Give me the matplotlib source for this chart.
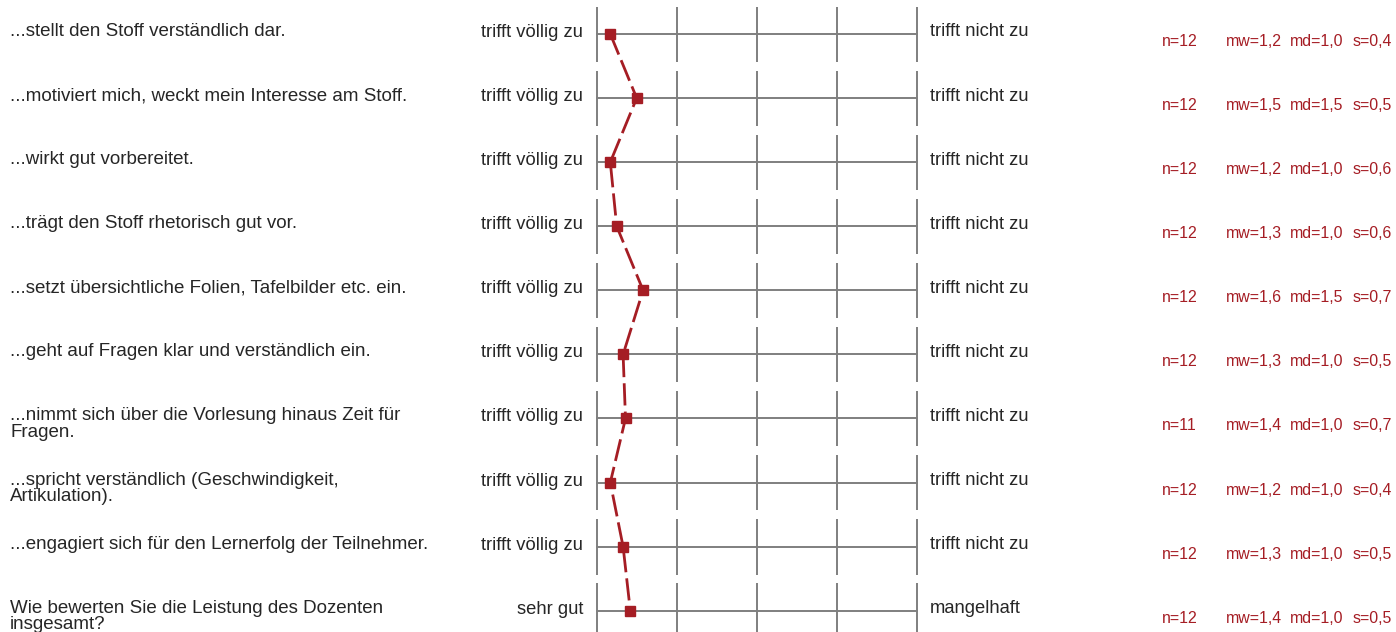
import matplotlib
matplotlib.use("Agg")
import matplotlib.pyplot as plt

plt.rcParams["font.family"] = ["Liberation Sans", "DejaVu Sans"]

W, H = 1396, 632
RED = "#a51d24"
GREY = "#7f7f7f"

questions = [
    "...stellt den Stoff verständlich dar.",
    "...motiviert mich, weckt mein Interesse am Stoff.",
    "...wirkt gut vorbereitet.",
    "...trägt den Stoff rhetorisch gut vor.",
    "...setzt übersichtliche Folien, Tafelbilder etc. ein.",
    "...geht auf Fragen klar und verständlich ein.",
    "...nimmt sich über die Vorlesung hinaus Zeit für\nFragen.",
    "...spricht verständlich (Geschwindigkeit,\nArtikulation).",
    "...engagiert sich für den Lernerfolg der Teilnehmer.",
    "Wie bewerten Sie die Leistung des Dozenten\ninsgesamt?",
]
left_labels = ["trifft völlig zu"] * 9 + ["sehr gut"]
right_labels = ["trifft nicht zu"] * 9 + ["mangelhaft"]
means = [1.17, 1.5, 1.17, 1.25, 1.58, 1.33, 1.36, 1.17, 1.33, 1.42]
n_vals = [12, 12, 12, 12, 12, 12, 11, 12, 12, 12]
mw = ["1,2", "1,5", "1,2", "1,3", "1,6", "1,3", "1,4", "1,2", "1,3", "1,4"]
md = ["1,0", "1,5", "1,0", "1,0", "1,5", "1,0", "1,0", "1,0", "1,0", "1,0"]
sd = ["0,4", "0,5", "0,6", "0,6", "0,7", "0,5", "0,7", "0,4", "0,5", "0,5"]
scale = [1, 2, 3, 4, 5]

fig = plt.figure(figsize=(W / 100, H / 100), dpi=100)
ax = fig.add_axes([0, 0, 1, 1])
# pixel layout: value 1 at x=596.7, 80 px per step; row 0 at y=34, 64.08 px per row
x0, dx = 596.7, 80.0
y0, dy = 34.0, 64.08
ax.set_xlim(1 - x0 / dx, 1 + (W - x0) / dx)
ax.set_ylim((H - y0) / dy, -y0 / dy)
ax.axis("off")

rows = list(range(len(questions)))
for i in rows:
    ax.plot([scale[0], scale[-1]], [i, i], color=GREY, lw=1.4, zorder=1)
    ax.vlines(scale, i - 0.425, i + 0.435, color=GREY, lw=1.4, zorder=1)

ax.plot(means, rows, color=RED, lw=2.0, ls=(0, (8, 2.2)), zorder=2)
ax.plot(means, rows, ls="none", marker="s", ms=6.5, color=RED, zorder=3)

def fx(px):
    return px / W

def fy(py):
    return 1 - py / H

TXT = "#262626"
for i, q in enumerate(questions):
    ry = y0 + dy * i
    fig.text(fx(10), fy(ry - 11), q, ha="left", va="top", fontsize=13.5,
             color=TXT, linespacing=0.94)
    fig.text(fx(583), fy(ry + 3), left_labels[i], ha="right", va="baseline",
             fontsize=13.2, color=TXT)
    fig.text(fx(930), fy(ry + 2.5), right_labels[i], ha="left", va="baseline",
             fontsize=13.2, color=TXT)
    sy = fy(ry + 12)
    fig.text(fx(1162), sy, f"n={n_vals[i]}", ha="left", va="baseline", fontsize=11.4, color=RED)
    fig.text(fx(1226), sy, f"mw={mw[i]}", ha="left", va="baseline", fontsize=11.4, color=RED)
    fig.text(fx(1290), sy, f"md={md[i]}", ha="left", va="baseline", fontsize=11.4, color=RED)
    fig.text(fx(1353), sy, f"s={sd[i]}", ha="left", va="baseline", fontsize=11.4, color=RED)

fig.savefig("out.png", dpi=100)
